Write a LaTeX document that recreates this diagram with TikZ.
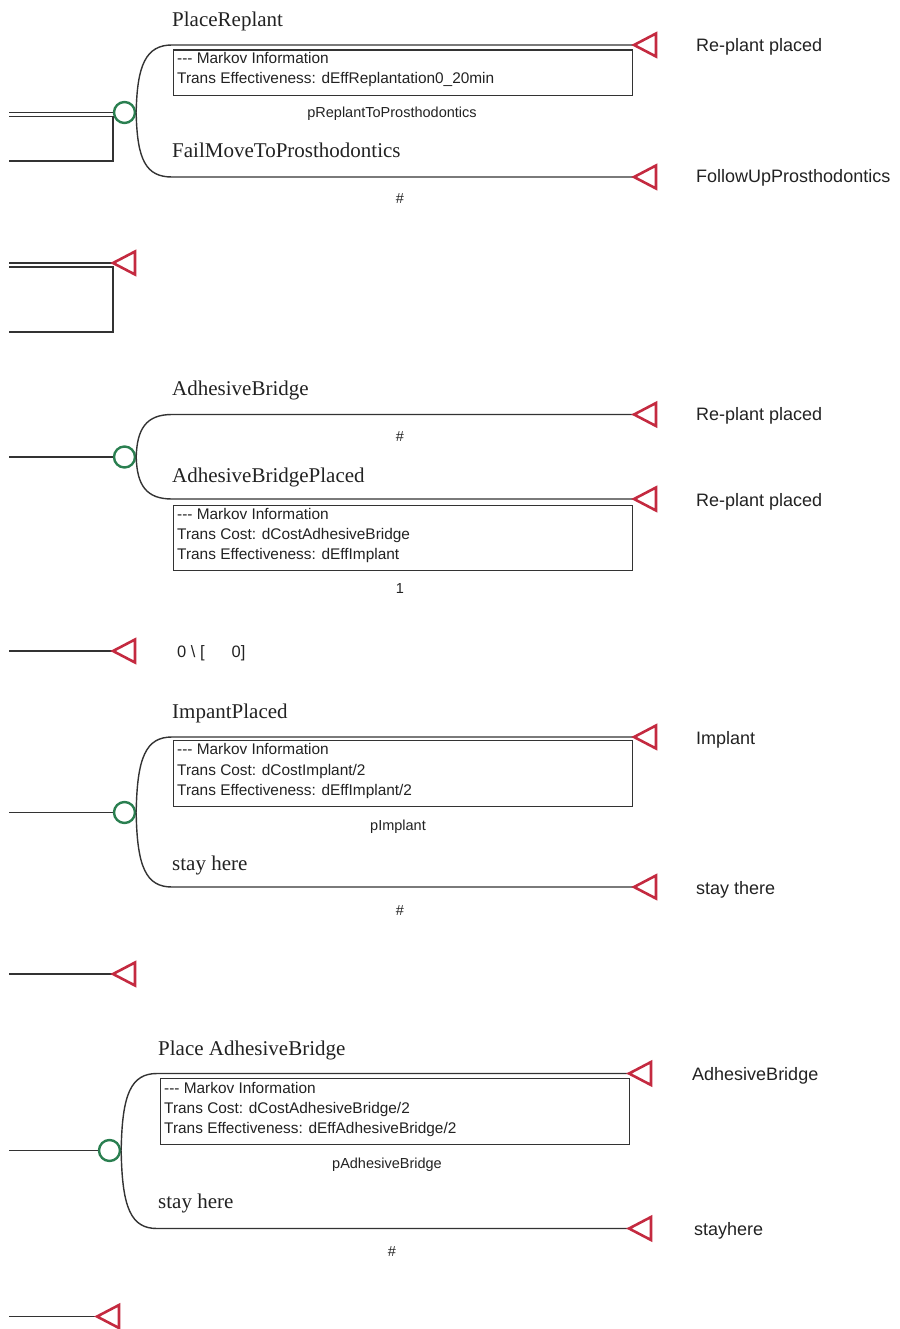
\documentclass[tikz,border=0pt]{standalone}
\usepackage{fontspec}
\setmainfont{Liberation Serif}
\setsansfont{Liberation Sans}
\definecolor{linegray}{HTML}{333333}
\definecolor{labelgray}{HTML}{222222}
\definecolor{chancegreen}{HTML}{2A7F50}
\definecolor{termred}{HTML}{C42A40}
% terminal node: open triangle whose apex sits on the given coordinate
\newcommand\termtri[1]{\draw[term] (#1) -- ++(22,-11.5) -- ++(0,23) -- cycle;}
% three separate hyphens (no dash ligature)
\newcommand\threedash{-{}-{}-}
\begin{document}
\begin{tikzpicture}[x=1pt,y=-1pt,
  wire/.style={draw=linegray, line width=1.4pt},
  chance/.style={circle, draw=chancegreen, line width=2.4pt, minimum size=21pt, inner sep=0pt, fill=white},
  term/.style={draw=termred, line width=2.6pt, line join=miter, fill=white},
  branch/.style={font=\fontsize{21}{25}\selectfont, text=labelgray, anchor=base west, inner sep=0pt},
  endlabel/.style={font=\sffamily\fontsize{18}{22}\selectfont, text=labelgray, anchor=base west, inner sep=0pt},
  minfo/.style={font=\sffamily\fontsize{15.4}{18}\selectfont, text=labelgray, anchor=base west, inner sep=0pt},
  mbox/.style={draw=linegray, line width=1.4pt, anchor=north west, inner sep=0pt},
  prob/.style={font=\sffamily\fontsize{14.5}{17}\selectfont, text=labelgray, anchor=base, inner sep=0pt},
]
\useasboundingbox (0,0) rectangle (899,1329);

% ---------- PlaceReplant / FailMoveToProsthodontics ----------
\coordinate (in1) at (9,112.5);
\coordinate (in1b) at (9,116.5);
\coordinate (in1c) at (9,161);
\node[chance] (c1) at (124.5,112.5) {};
\coordinate (t1a) at (634,45);
\coordinate (t1b) at (634,177);
\draw[wire] (in1) -- (c1.west);
\draw[wire] (in1b) -- (113,116.5) -- (113,161) -- (in1c);
\draw[wire] (c1.east) .. controls (137,65) and (146,45) .. (172,45) -- (t1a);
\draw[wire] (c1.east) .. controls (137,160) and (146,177) .. (172,177) -- (t1b);
\termtri{t1a}
\termtri{t1b}
\node[branch] (b1a) at (172,27) {PlaceReplant};
\node[branch] (b1b) at (172,158) {FailMoveToProsthodontics};
\node[mbox, minimum width=459pt, minimum height=45.5pt] (m1) at (173,49.5) {};
\node[minfo] (m1l1) at (177,64) {\threedash{} Markov Information};
\node[minfo] (m1l2) at (177,84) {Trans Effectiveness: dEffReplantation0\_20min};
\node[prob] (p1a) at (392,118) {pReplantToProsthodontics};
\node[prob] (p1b) at (400,204) {\#};
\node[endlabel] (e1a) at (696,52) {Re-plant placed};
\node[endlabel] (e1b) at (696,183) {FollowUpProsthodontics};

% ---------- terminal with loop ----------
\coordinate (in2) at (9,263);
\coordinate (in2b) at (9,267);
\coordinate (in2c) at (9,332);
\coordinate (t2) at (113,263);
\draw[wire] (in2) -- (t2);
\draw[wire] (in2b) -- (113,267) -- (113,332) -- (in2c);
\termtri{t2}

% ---------- AdhesiveBridge / AdhesiveBridgePlaced ----------
\coordinate (in3) at (9,457);
\node[chance] (c3) at (124.5,457) {};
\coordinate (t3a) at (634,414.5);
\coordinate (t3b) at (634,499);
\draw[wire] (in3) -- (c3.west);
\draw[wire] (c3.east) .. controls (137,429) and (146,414.5) .. (172,414.5) -- (t3a);
\draw[wire] (c3.east) .. controls (137,485) and (146,499) .. (172,499) -- (t3b);
\termtri{t3a}
\termtri{t3b}
\node[branch] (b3a) at (172,395) {AdhesiveBridge};
\node[branch] (b3b) at (172,482) {AdhesiveBridgePlaced};
\node[prob] (p3a) at (400,441) {\#};
\node[mbox, minimum width=459pt, minimum height=65pt] (m3) at (173,505) {};
\node[minfo] (m3l1) at (177,519.5) {\threedash{} Markov Information};
\node[minfo] (m3l2) at (177,539.5) {Trans Cost: dCostAdhesiveBridge};
\node[minfo] (m3l3) at (177,559.5) {Trans Effectiveness: dEffImplant};
\node[prob] (p3b) at (400,593) {1};
\node[endlabel] (e3a) at (696,420) {Re-plant placed};
\node[endlabel] (e3b) at (696,506) {Re-plant placed};

% ---------- terminal with value ----------
\coordinate (in4) at (9,651);
\coordinate (t4) at (113,651);
\draw[wire] (in4) -- (t4);
\termtri{t4}
\node[font=\sffamily\fontsize{16.5}{20}\selectfont, text=labelgray, anchor=base west, inner sep=0pt] (v4) at (177,657) {0 \textbackslash\ [\hspace{27pt}0]};

% ---------- ImpantPlaced / stay here ----------
\coordinate (in5) at (9,812.5);
\node[chance] (c5) at (124.5,812.5) {};
\coordinate (t5a) at (634,737);
\coordinate (t5b) at (634,887);
\draw[wire] (in5) -- (c5.west);
\draw[wire] (c5.east) .. controls (137,757) and (146,737) .. (172,737) -- (t5a);
\draw[wire] (c5.east) .. controls (137,867) and (146,887) .. (172,887) -- (t5b);
\termtri{t5a}
\termtri{t5b}
\node[branch] (b5a) at (172,718) {ImpantPlaced};
\node[branch] (b5b) at (172,870) {stay here};
\node[mbox, minimum width=459pt, minimum height=66pt] (m5) at (173,740) {};
\node[minfo] (m5l1) at (177,754.5) {\threedash{} Markov Information};
\node[minfo] (m5l2) at (177,775) {Trans Cost: dCostImplant/2};
\node[minfo] (m5l3) at (177,795.5) {Trans Effectiveness: dEffImplant/2};
\node[prob] (p5a) at (398,830) {pImplant};
\node[prob] (p5b) at (400,915) {\#};
\node[endlabel] (e5a) at (696,744) {Implant};
\node[endlabel] (e5b) at (696,894) {stay there};

% ---------- terminal ----------
\coordinate (in6) at (9,974);
\coordinate (t6) at (113,974);
\draw[wire] (in6) -- (t6);
\termtri{t6}

% ---------- Place AdhesiveBridge / stay here ----------
\coordinate (in7) at (9,1150.5);
\node[chance] (c7) at (109.5,1150.5) {};
\coordinate (t7a) at (629,1073.5);
\coordinate (t7b) at (629,1228.5);
\draw[wire] (in7) -- (c7.west);
\draw[wire] (c7.east) .. controls (122,1094) and (131,1073.5) .. (157,1073.5) -- (t7a);
\draw[wire] (c7.east) .. controls (122,1208) and (131,1228.5) .. (157,1228.5) -- (t7b);
\termtri{t7a}
\termtri{t7b}
\node[branch] (b7a) at (158,1055) {Place AdhesiveBridge};
\node[branch] (b7b) at (158,1208) {stay here};
\node[mbox, minimum width=469pt, minimum height=66pt] (m7) at (160,1078) {};
\node[minfo] (m7l1) at (164,1093.3) {\threedash{} Markov Information};
\node[minfo] (m7l2) at (164,1113.3) {Trans Cost: dCostAdhesiveBridge/2};
\node[minfo] (m7l3) at (164,1133.3) {Trans Effectiveness: dEffAdhesiveBridge/2};
\node[prob] (p7a) at (387,1168) {pAdhesiveBridge};
\node[prob] (p7b) at (392,1256.5) {\#};
\node[endlabel] (e7a) at (692,1080) {AdhesiveBridge};
\node[endlabel] (e7b) at (694,1235) {stayhere};

% ---------- terminal ----------
\coordinate (in8) at (9,1316.5);
\coordinate (t8) at (97,1316.5);
\draw[wire] (in8) -- (t8);
\termtri{t8}
\end{tikzpicture}
\end{document}
